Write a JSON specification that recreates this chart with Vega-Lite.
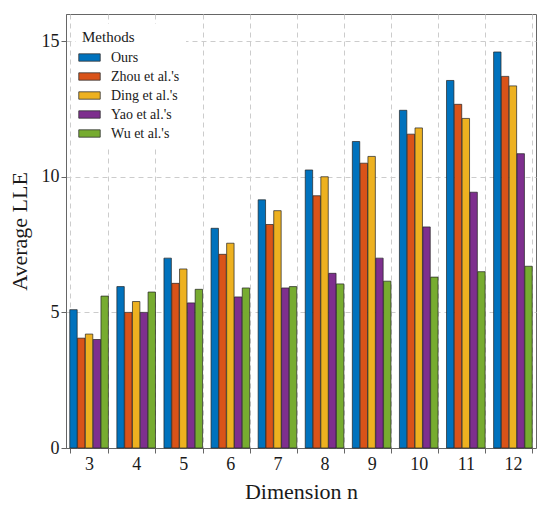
{
  "$schema": "https://vega.github.io/schema/vega-lite/v6.json",
  "width": 550,
  "height": 510,
  "autosize": {"type": "fit", "contains": "padding"},
  "background": "white",
  "padding": {"left": 8, "right": 14, "top": 14, "bottom": 8},
  "config": {
    "font": "Liberation Serif",
    "view": {"stroke": "#666666", "strokeWidth": 1},
    "axis": {
      "labelFont": "Liberation Serif",
      "titleFont": "Liberation Serif",
      "labelFontSize": 18,
      "titleFontSize": 22,
      "titleFontWeight": "normal",
      "labelColor": "#1a1a1a",
      "titleColor": "#1a1a1a",
      "domainColor": "#666666",
      "tickColor": "#666666",
      "gridColor": "#cccccc",
      "gridDash": [5, 4]
    },
    "legend": {
      "labelFont": "Liberation Serif",
      "labelFontSize": 14,
      "labelColor": "#1a1a1a",
      "titleFont": "Liberation Serif",
      "titleFontSize": 15,
      "titleFontWeight": "normal",
      "titleColor": "#1a1a1a"
    }
  },
  "data": {
    "values": [
      {"n": 3, "method": "Ours", "lle": 5.1},
      {"n": 4, "method": "Ours", "lle": 5.95},
      {"n": 5, "method": "Ours", "lle": 7.0},
      {"n": 6, "method": "Ours", "lle": 8.1},
      {"n": 7, "method": "Ours", "lle": 9.15},
      {"n": 8, "method": "Ours", "lle": 10.25},
      {"n": 9, "method": "Ours", "lle": 11.3},
      {"n": 10, "method": "Ours", "lle": 12.45},
      {"n": 11, "method": "Ours", "lle": 13.55},
      {"n": 12, "method": "Ours", "lle": 14.6},
      {"n": 3, "method": "Zhou et al.'s", "lle": 4.05},
      {"n": 4, "method": "Zhou et al.'s", "lle": 5.0},
      {"n": 5, "method": "Zhou et al.'s", "lle": 6.07},
      {"n": 6, "method": "Zhou et al.'s", "lle": 7.14},
      {"n": 7, "method": "Zhou et al.'s", "lle": 8.24},
      {"n": 8, "method": "Zhou et al.'s", "lle": 9.3},
      {"n": 9, "method": "Zhou et al.'s", "lle": 10.5},
      {"n": 10, "method": "Zhou et al.'s", "lle": 11.57},
      {"n": 11, "method": "Zhou et al.'s", "lle": 12.67},
      {"n": 12, "method": "Zhou et al.'s", "lle": 13.7},
      {"n": 3, "method": "Ding et al.'s", "lle": 4.2},
      {"n": 4, "method": "Ding et al.'s", "lle": 5.4},
      {"n": 5, "method": "Ding et al.'s", "lle": 6.6},
      {"n": 6, "method": "Ding et al.'s", "lle": 7.55},
      {"n": 7, "method": "Ding et al.'s", "lle": 8.75},
      {"n": 8, "method": "Ding et al.'s", "lle": 10.0},
      {"n": 9, "method": "Ding et al.'s", "lle": 10.75},
      {"n": 10, "method": "Ding et al.'s", "lle": 11.8},
      {"n": 11, "method": "Ding et al.'s", "lle": 12.15},
      {"n": 12, "method": "Ding et al.'s", "lle": 13.35},
      {"n": 3, "method": "Yao et al.'s", "lle": 4.0},
      {"n": 4, "method": "Yao et al.'s", "lle": 5.0},
      {"n": 5, "method": "Yao et al.'s", "lle": 5.35},
      {"n": 6, "method": "Yao et al.'s", "lle": 5.57},
      {"n": 7, "method": "Yao et al.'s", "lle": 5.9},
      {"n": 8, "method": "Yao et al.'s", "lle": 6.44},
      {"n": 9, "method": "Yao et al.'s", "lle": 7.0},
      {"n": 10, "method": "Yao et al.'s", "lle": 8.15},
      {"n": 11, "method": "Yao et al.'s", "lle": 9.43},
      {"n": 12, "method": "Yao et al.'s", "lle": 10.85},
      {"n": 3, "method": "Wu et al.'s", "lle": 5.6},
      {"n": 4, "method": "Wu et al.'s", "lle": 5.75},
      {"n": 5, "method": "Wu et al.'s", "lle": 5.85},
      {"n": 6, "method": "Wu et al.'s", "lle": 5.9},
      {"n": 7, "method": "Wu et al.'s", "lle": 5.95},
      {"n": 8, "method": "Wu et al.'s", "lle": 6.05},
      {"n": 9, "method": "Wu et al.'s", "lle": 6.15},
      {"n": 10, "method": "Wu et al.'s", "lle": 6.3},
      {"n": 11, "method": "Wu et al.'s", "lle": 6.5},
      {"n": 12, "method": "Wu et al.'s", "lle": 6.7}
    ]
  },
  "mark": {"type": "bar", "stroke": "#222222", "strokeWidth": 0.7},
  "encoding": {
    "x": {
      "field": "n",
      "type": "ordinal",
      "title": "Dimension n",
      "scale": {"paddingInner": 0.18, "paddingOuter": 0.08},
      "axis": {"labelAngle": 0, "grid": true, "tickBand": "extent", "titlePadding": 8}
    },
    "xOffset": {
      "field": "method",
      "type": "nominal",
      "sort": ["Ours", "Zhou et al.'s", "Ding et al.'s", "Yao et al.'s", "Wu et al.'s"],
      "scale": {"paddingInner": 0.05}
    },
    "y": {
      "field": "lle",
      "type": "quantitative",
      "title": "Average LLE",
      "scale": {"domain": [0, 16]},
      "axis": {"values": [0, 5, 10, 15], "grid": true, "titlePadding": 10}
    },
    "color": {
      "field": "method",
      "type": "nominal",
      "sort": ["Ours", "Zhou et al.'s", "Ding et al.'s", "Yao et al.'s", "Wu et al.'s"],
      "scale": {
        "domain": ["Ours", "Zhou et al.'s", "Ding et al.'s", "Yao et al.'s", "Wu et al.'s"],
        "range": ["#0072BD", "#D95319", "#EDB120", "#7E2F8E", "#77AC30"]
      },
      "legend": {
        "title": "Methods",
        "orient": "top-left",
        "offset": 10,
        "symbolType": "M-1.6,-0.55H1.6V0.55H-1.6Z",
        "symbolSize": 180,
        "symbolStrokeColor": "#333333",
        "symbolStrokeWidth": 0.8,
        "rowPadding": 4,
        "labelOffset": 14,
        "fillColor": "white",
        "padding": 6
      }
    },
    "tooltip": [
      {"field": "method", "type": "nominal", "title": "Method"},
      {"field": "n", "type": "ordinal", "title": "Dimension n"},
      {"field": "lle", "type": "quantitative", "title": "Average LLE"}
    ]
  }
}
